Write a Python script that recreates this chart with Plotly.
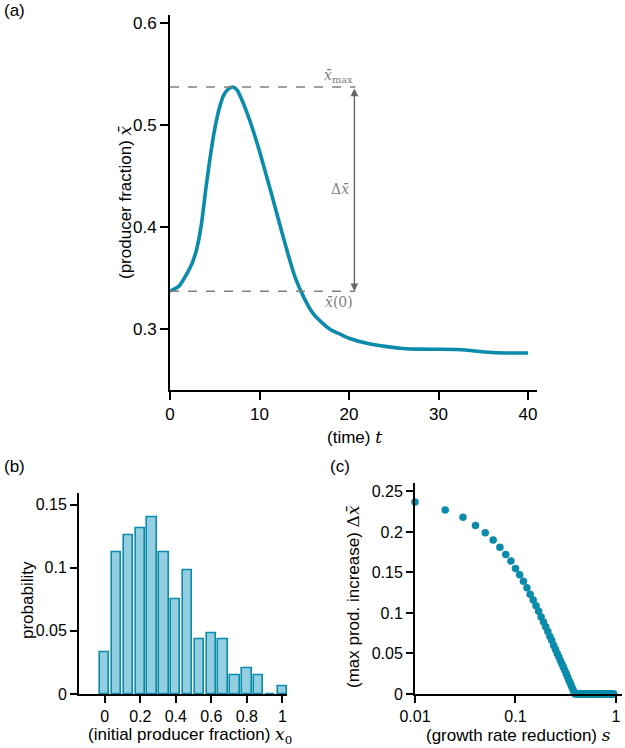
import plotly.graph_objects as go

# ---------------- data ----------------
# panel (a): mean producer fraction over time
time_t = [0, 1, 2, 2.5, 3, 3.5, 4, 4.5, 5, 5.5, 6, 6.5, 7, 7.5, 8, 9, 10, 11, 12, 13, 14,
          15, 16, 17, 18, 19, 20, 22, 24, 26, 28, 30, 32, 33, 34, 36, 38, 40]
xbar = [0.337, 0.342, 0.356, 0.365, 0.379, 0.402, 0.437, 0.469, 0.496, 0.516, 0.529, 0.535,
        0.537, 0.534, 0.525, 0.502, 0.474, 0.443, 0.411, 0.379, 0.350, 0.330, 0.315, 0.306,
        0.299, 0.295, 0.291, 0.286, 0.283, 0.281, 0.2803, 0.2802, 0.2800, 0.2795, 0.2785,
        0.2770, 0.2765, 0.2765]

# panel (b): histogram of initial producer fraction
bin_centers = [0.0, 0.0667, 0.1333, 0.2, 0.2667, 0.3333, 0.4, 0.4667, 0.5333, 0.6,
               0.6667, 0.7333, 0.8, 0.8667, 0.9333, 1.0]
probability = [0.033, 0.112, 0.126, 0.131, 0.140, 0.112, 0.075, 0.098, 0.043, 0.048,
               0.043, 0.015, 0.020, 0.015, 0.0, 0.006]

# panel (c): max producer increase vs growth rate reduction
s_vals = [0.01, 0.02, 0.03, 0.04, 0.05, 0.06, 0.07, 0.08, 0.09, 0.10,
          0.11, 0.12, 0.13, 0.14, 0.15, 0.16, 0.17, 0.18, 0.19, 0.20,
          0.21, 0.22, 0.23, 0.24, 0.25, 0.26, 0.27, 0.28, 0.29, 0.30,
          0.31, 0.32, 0.33, 0.34, 0.35, 0.36, 0.37, 0.38, 0.39, 0.40,
          0.41, 0.42, 0.43, 0.44, 0.45, 0.46, 0.47, 0.48, 0.49, 0.50,
          0.51, 0.52, 0.53, 0.54, 0.55, 0.56, 0.57, 0.58, 0.59, 0.60,
          0.61, 0.62, 0.63, 0.64, 0.65, 0.66, 0.67, 0.68, 0.69, 0.70,
          0.71, 0.72, 0.73, 0.74, 0.75, 0.76, 0.77, 0.78, 0.79, 0.80,
          0.81, 0.82, 0.83, 0.84, 0.85, 0.86, 0.87, 0.88, 0.89, 0.90,
          0.91, 0.92, 0.93, 0.94, 0.95]
delta_x = [0.237, 0.227, 0.218, 0.208, 0.199, 0.190, 0.181, 0.172, 0.164, 0.155,
           0.147, 0.139, 0.131, 0.123, 0.116, 0.109, 0.102, 0.095, 0.089, 0.083,
           0.077, 0.071, 0.066, 0.060, 0.055, 0.050, 0.046, 0.041, 0.037, 0.033,
           0.029, 0.025, 0.021, 0.017, 0.0135, 0.010, 0.0066, 0.0031, 0.0, 0.0,
           0, 0, 0, 0, 0, 0, 0, 0, 0, 0,
           0, 0, 0, 0, 0, 0, 0, 0, 0, 0,
           0, 0, 0, 0, 0, 0, 0, 0, 0, 0,
           0, 0, 0, 0, 0, 0, 0, 0, 0, 0,
           0, 0, 0, 0, 0, 0, 0, 0, 0, 0,
           0, 0, 0, 0, 0]

ticks_a_x = [0, 10, 20, 30, 40]
ticks_a_y = [0.3, 0.4, 0.5, 0.6]
ticks_b_x = [0, 0.2, 0.4, 0.6, 0.8, 1]
ticks_b_x_text = ["0", "0.2", "0.4", "0.6", "0.8", "1"]
ticks_b_y = [0, 0.05, 0.1, 0.15]
ticks_b_y_text = ["0", "0.05", "0.1", "0.15"]
ticks_c_x = [0.01, 0.1, 1]
ticks_c_x_text = ["0.01", "0.1", "1"]
ticks_c_y = [0, 0.05, 0.1, 0.15, 0.2, 0.25]
ticks_c_y_text = ["0", "0.05", "0.1", "0.15", "0.2", "0.25"]

# ---------------- style ----------------
W, H = 625, 748
TEAL = "#0b8bab"
BAR_FILL = "#93cfe0"
GREY = "#808080"
SANS = "Liberation Sans, Arial, sans-serif"
SERIF = "DejaVu Serif, Liberation Serif, serif"


def px(x):
    return x / W


def py(y):
    return 1 - y / H


def mathspan(s, size=None):
    st = "font-family:DejaVu Serif"
    if size:
        st += ";font-size:%dpx" % size
    return "<span style='" + st + "'>" + s + "</span>"


fig = go.Figure()

fig.add_trace(go.Scatter(x=time_t, y=xbar, mode="lines", xaxis="x", yaxis="y",
                         line=dict(color=TEAL, width=3.6, shape="spline", smoothing=0.6),
                         showlegend=False, hoverinfo="skip"))

fig.add_trace(go.Bar(x=bin_centers, y=probability, xaxis="x2", yaxis="y2", width=0.053,
                     marker=dict(color=BAR_FILL, line=dict(color=TEAL, width=1.6)),
                     showlegend=False))

fig.add_trace(go.Scatter(x=s_vals, y=delta_x, mode="markers", xaxis="x3", yaxis="y3",
                         marker=dict(color=TEAL, size=7.5), cliponaxis=False,
                         showlegend=False))


def axis_common(fs):
    return dict(showline=True, linecolor="black", linewidth=2, ticks="outside",
                tickcolor="black", tickwidth=2, showgrid=False, zeroline=False,
                automargin=False,
                tickfont=dict(family=SANS, size=fs, color="black"))


fig.update_layout(
    width=W, height=H, margin=dict(l=0, r=0, t=0, b=0, pad=0), autosize=False,
    paper_bgcolor="white", plot_bgcolor="white",
    font=dict(family=SANS, size=17, color="black"),
    bargap=0,
    xaxis=dict(domain=[px(170), px(537)], range=[0, 41], anchor="y",
               tickvals=ticks_a_x, ticklen=8, **axis_common(17)),
    yaxis=dict(domain=[py(390), py(15)], range=[0.2403, 0.6075], anchor="x",
               tickvals=ticks_a_y, ticktext=[str(v) for v in ticks_a_y], ticklen=8,
               **axis_common(17)),
    xaxis2=dict(domain=[px(79), px(287.3)], range=[-0.145, 1.028], anchor="y2",
                tickvals=ticks_b_x, ticktext=ticks_b_x_text, ticklen=7, **axis_common(16)),
    yaxis2=dict(domain=[py(694), py(493.3)], range=[0, 0.159], anchor="x2",
                tickvals=ticks_b_y, ticktext=ticks_b_y_text, ticklen=7, **axis_common(16)),
    xaxis3=dict(domain=[px(415), px(621.7)], type="log", range=[-2, 0.057], anchor="y3",
                tickvals=ticks_c_x, ticktext=ticks_c_x_text, ticklen=7, **axis_common(16)),
    yaxis3=dict(domain=[py(694), py(483.3)], range=[0, 0.26], anchor="x3",
                tickvals=ticks_c_y, ticktext=ticks_c_y_text, ticklen=7, **axis_common(16)),
)

# dashed reference lines and arrow in panel (a)
x_max = max(xbar)
x_start = xbar[0]
line_end = 20.7
for yv in (x_max, x_start):
    fig.add_shape(type="line", xref="x", yref="y", x0=0, x1=line_end, y0=yv, y1=yv,
                  line=dict(color=GREY, width=1.4, dash="dash"))

fig.add_annotation(xref="x", yref="y", axref="x", ayref="y", x=20.6, y=x_start,
                   ax=20.6, ay=x_max, text="", showarrow=True, arrowhead=2,
                   startarrowhead=2, arrowside="end+start", arrowsize=1.1,
                   arrowwidth=1.4, arrowcolor="#666666", standoff=0, startstandoff=0)

math_font = dict(family=SERIF, size=14, color=GREY)
fig.add_annotation(xref="x", yref="y", x=line_end, y=x_max, text="<i>x̄</i><sub>max</sub>",
                   showarrow=False, xanchor="right", yanchor="bottom", yshift=0,
                   font=math_font)
fig.add_annotation(xref="x", yref="y", x=20.2, y=(x_max + x_start) / 2, text="Δ<i>x̄</i>",
                   showarrow=False, xanchor="right", yanchor="middle", font=math_font)
fig.add_annotation(xref="x", yref="y", x=line_end, y=x_start, text="<i>x̄</i>(0)",
                   showarrow=False, xanchor="right", yanchor="top", yshift=-1,
                   font=math_font)

# axis titles as annotations
title_font = dict(family=SANS, size=17, color="black")
fig.add_annotation(xref="paper", yref="paper", x=px(125), y=py(202), textangle=-90,
                   text="(producer fraction) " + mathspan("<i>x̄</i>"), showarrow=False,
                   font=title_font, xanchor="center", yanchor="middle")
fig.add_annotation(xref="paper", yref="paper", x=px(354), y=py(437),
                   text="(time) " + mathspan("<i>t</i>"), showarrow=False,
                   font=title_font, xanchor="center", yanchor="middle")
fig.add_annotation(xref="paper", yref="paper", x=px(27), y=py(600), textangle=-90,
                   text="probability", showarrow=False, font=title_font,
                   xanchor="center", yanchor="middle")
fig.add_annotation(xref="paper", yref="paper", x=px(190), y=py(735),
                   text="(initial producer fraction) " + mathspan("<i>x</i><sub>0</sub>"),
                   showarrow=False, font=title_font, xanchor="center", yanchor="middle")
fig.add_annotation(xref="paper", yref="paper", x=px(353), y=py(597), textangle=-90,
                   text="(max prod. increase) " + mathspan("Δ<i>x̄</i>"), showarrow=False,
                   font=title_font, xanchor="center", yanchor="middle")
fig.add_annotation(xref="paper", yref="paper", x=px(518), y=py(735),
                   text="(growth rate reduction) " + mathspan("<i>s</i>"),
                   showarrow=False, font=title_font, xanchor="center", yanchor="middle")

# panel labels
for lab, xx, yy in (("(a)", 2, 11), ("(b)", 2, 466), ("(c)", 328, 466)):
    fig.add_annotation(xref="paper", yref="paper", x=px(xx), y=py(yy), text=lab,
                       showarrow=False, font=title_font, xanchor="left", yanchor="middle")

fig.write_html("out.html", config={"displayModeBar": False},
               post_script="document.body.style.margin='0px';"
                           "document.body.style.overflow='hidden';")
